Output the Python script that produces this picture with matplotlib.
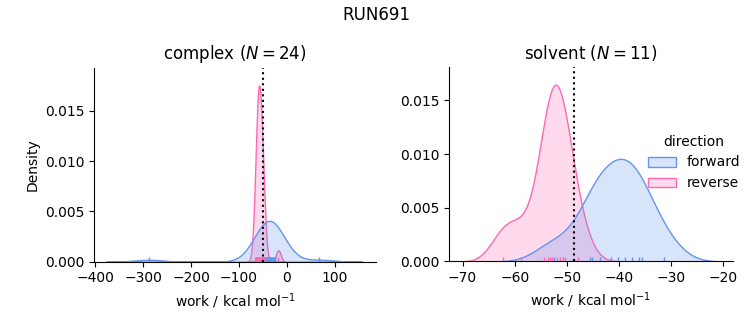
import numpy as np
import pandas as pd
import matplotlib
matplotlib.use("Agg")
import matplotlib.pyplot as plt
import seaborn as sns

# --- work values (kcal/mol) ---
complex_forward = [-287, -50, -48, -46, -45, -44, -42.5, -41, -40, -39, -38, -37,
                   -36, -35, -34, -33, -32, -30.5, -29.5, -28, -27, -25.5, -24, 67]
complex_reverse = [-67, -65.5, -64, -63, -62, -61, -60.5, -60, -59.5, -59, -58.5,
                   -58, -57.5, -57, -56, -55, -54, -53, -52, -51, -50, -49, -48, -18]
solvent_forward = [-52.5, -45.6, -45.1, -43.6, -41.5, -40.1, -38.8, -37.5, -36.2,
                   -35.6, -31.4]
solvent_reverse = [-62.3, -58.8, -54.3, -53.7, -53.2, -52.8, -51.8, -51.3, -50.8,
                   -50.4, -47.8]

# free energy estimate per phase (dotted line)
dg_complex = -50.6
dg_solvent = -48.7
n_complex = 24
n_solvent = 11

rows = []
for phase, direction, vals in [("complex", "forward", complex_forward),
                               ("complex", "reverse", complex_reverse),
                               ("solvent", "forward", solvent_forward),
                               ("solvent", "reverse", solvent_reverse)]:
    for v in vals:
        rows.append({"phase": phase, "direction": direction, "work": v})
df = pd.DataFrame(rows)

g = sns.displot(df, x="work", hue="direction", col="phase", kind="kde",
                fill=True, rug=True,
                palette={"forward": "cornflowerblue", "reverse": "hotpink"},
                facet_kws=dict(sharex=False, sharey=False))

ax1, ax2 = g.axes[0]
ax1.axvline(dg_complex, color="k", ls=":")
ax2.axvline(dg_solvent, color="k", ls=":")
ax1.set_title(f"complex ($N={n_complex}$)")
ax2.set_title(f"solvent ($N={n_solvent}$)")
ax1.set_xlabel("work / kcal mol$^{-1}$")
ax2.set_xlabel("work / kcal mol$^{-1}$")
ax1.set_ylabel("Density")
ax2.set_ylabel("")

# --- layout to match the reference ---
fig = g.figure
fig.set_size_inches(7.53, 3.25)
ax1.set_position([0.1248, 0.1948, 0.3745, 0.5969])
ax2.set_position([0.5963, 0.1955, 0.3765, 0.5984])
ax1.set_xlim(-402.3, 185.5)
ax2.set_xlim(-72.6, -18.2)
fig.suptitle("RUN691")

fig.savefig("out.png", dpi=100)
